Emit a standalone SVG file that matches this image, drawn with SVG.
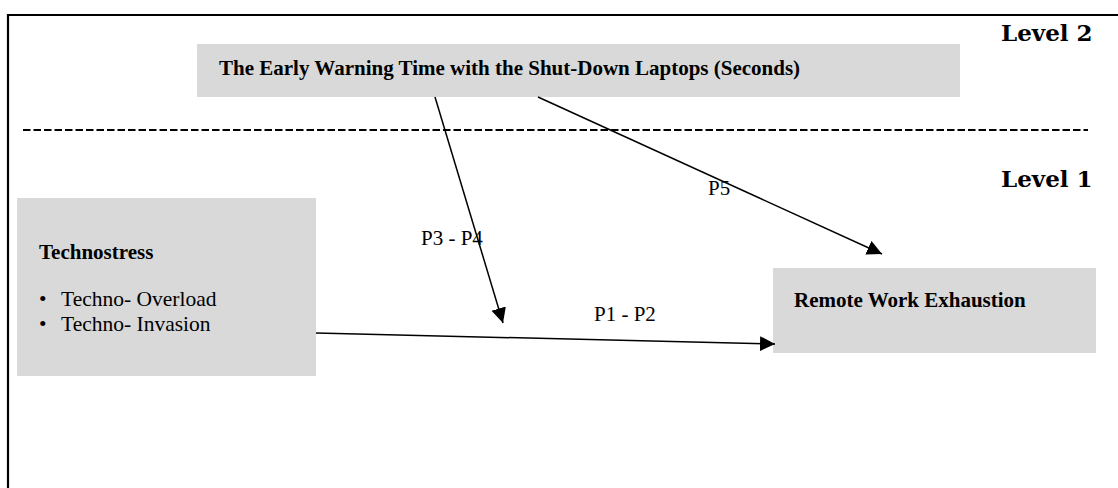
<svg xmlns="http://www.w3.org/2000/svg" width="1118" height="488" viewBox="0 0 1118 488">
<style>
.box{fill:#d9d9d9;}
.title{font-family:"Liberation Serif","Times New Roman",serif;font-weight:bold;font-size:21px;fill:#000;}
.body{font-family:"Liberation Serif","Times New Roman",serif;font-size:21.5px;fill:#000;}
.lbl{font-family:"Liberation Serif","Times New Roman",serif;font-size:21px;fill:#000;}
.level{font-family:"DejaVu Serif","Liberation Serif",serif;font-weight:bold;font-size:23px;fill:#000;}
.conn{stroke:#000;stroke-width:1.5;fill:none;marker-end:url(#arrow);}
</style>
<defs>
<marker id="arrow" markerUnits="userSpaceOnUse" markerWidth="16" markerHeight="16" viewBox="0 0 16 16" refX="15" refY="8" orient="auto">
<path d="M0,0.5 L15,8 L0,15.5 Z" fill="#000"/>
</marker>
</defs>
<rect width="1118" height="488" fill="#fff"/>
<path d="M8,488 V15 H1118" fill="none" stroke="#000" stroke-width="2.2"/>
<line x1="23" y1="130" x2="1088" y2="130" stroke="#000" stroke-width="2.2" stroke-dasharray="7.5 3"/>
<g id="level-labels">
<text class="level" x="1001" y="41">Level 2</text>
<text class="level" x="1001" y="187">Level 1</text>
</g>
<g id="node-warning">
<rect class="box" x="197" y="44" width="763" height="53"/>
<text class="title" x="219" y="75">The Early Warning Time with the Shut-Down Laptops (Seconds)</text>
</g>
<g id="node-technostress">
<rect class="box" x="17" y="198" width="299" height="178"/>
<text class="title" x="39" y="259">Technostress</text>
<text class="body" x="39" y="306">•</text>
<text class="body" x="61" y="306">Techno- Overload</text>
<text class="body" x="39" y="331">•</text>
<text class="body" x="61" y="331">Techno- Invasion</text>
</g>
<g id="node-exhaustion">
<rect class="box" x="773" y="268" width="323" height="85"/>
<text class="title" x="794" y="307">Remote Work Exhaustion</text>
</g>
<g id="connectors">
<line class="conn" x1="316" y1="333" x2="775" y2="344"/>
<line class="conn" x1="435" y1="97" x2="503" y2="323"/>
<line class="conn" x1="538" y1="97" x2="882" y2="254"/>
<text class="lbl" x="594" y="321">P1 - P2</text>
<text class="lbl" x="421" y="245">P3 - P4</text>
<text class="lbl" x="708" y="195">P5</text>
</g>
</svg>
